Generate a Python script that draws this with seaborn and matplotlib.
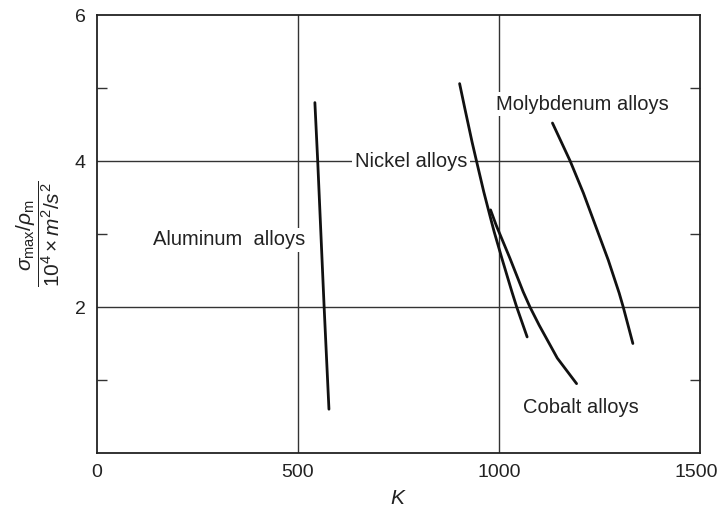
import matplotlib
matplotlib.use("Agg")
import matplotlib.pyplot as plt
import matplotlib.transforms as mtransforms
import pandas as pd
import seaborn as sns

# curves (K, sigma_max/rho_m in 10^4 m^2/s^2)
aluminum_k = [542, 549, 565, 577]
aluminum_s = [4.80, 4.00, 2.00, 0.60]

nickel_k = [902, 915, 933, 944, 962, 977, 988, 1007, 1032, 1044, 1070]
nickel_s = [5.06, 4.72, 4.26, 4.00, 3.58, 3.26, 3.03, 2.67, 2.21, 2.00, 1.59]

cobalt_k = [979, 993, 1027, 1060, 1077, 1100, 1145, 1193]
cobalt_s = [3.33, 3.12, 2.67, 2.21, 2.00, 1.75, 1.30, 0.95]

molybdenum_k = [1133, 1177, 1210, 1241, 1272, 1299, 1309, 1322, 1333]
molybdenum_s = [4.52, 4.00, 3.56, 3.10, 2.64, 2.19, 2.00, 1.73, 1.50]

label_names = ["Aluminum  alloys", "Nickel alloys", "Molybdenum alloys", "Cobalt alloys"]
label_k = [328, 781, 1208, 1204]
label_s = [2.92, 4.00, 4.78, 0.63]

x_ticks = [0, 500, 1000, 1500]
y_ticks = [2, 4, 6]
y_minor = [1, 3, 5]

frames = []
for name, k, s in [
    ("Aluminum", aluminum_k, aluminum_s),
    ("Nickel", nickel_k, nickel_s),
    ("Cobalt", cobalt_k, cobalt_s),
    ("Molybdenum", molybdenum_k, molybdenum_s),
]:
    frames.append(pd.DataFrame({"alloy": name, "K": k, "ratio": s}))
df = pd.concat(frames, ignore_index=True)

sns.set_theme(style="white")
plt.rcParams["font.family"] = ["Liberation Sans", "DejaVu Sans"]
plt.rcParams["mathtext.fontset"] = "custom"
plt.rcParams["mathtext.rm"] = "Liberation Sans"
plt.rcParams["mathtext.it"] = "Liberation Sans:italic"
plt.rcParams["lines.solid_joinstyle"] = "round"

fig = plt.figure(figsize=(7.2, 5.11), dpi=100)
ax = fig.add_axes([97 / 720, 1 - 453 / 511, 603 / 720, 438 / 511])

sns.lineplot(
    data=df, x="K", y="ratio", hue="alloy", units="alloy", estimator=None,
    sort=False, palette=["#111111"] * 4, linewidth=2.0, legend=False, ax=ax,
)

ax.set_xlim(0, 1500)
ax.set_ylim(0, 6)
ax.set_xticks(x_ticks)
ax.set_yticks(y_ticks)
ax.set_yticks(y_minor, minor=True)
ax.tick_params(axis="both", which="major", length=0, labelsize=14, colors="#222222", pad=8)
ax.tick_params(axis="y", which="minor", direction="in", length=7, width=1,
               left=True, right=True, color="#333333")

# last x label sits a bit left of its tick, as in the source figure
last = ax.get_xticklabels()[-1]
last.set_transform(last.get_transform() + mtransforms.ScaledTranslation(-3 / 72, 0, fig.dpi_scale_trans))

for v in [500, 1000]:
    ax.axvline(v, color="#333333", linewidth=1.0, zorder=0)
for v in [2, 4]:
    ax.axhline(v, color="#333333", linewidth=1.0, zorder=0)

for sp in ax.spines.values():
    sp.set_color("#222222")
    sp.set_linewidth(1.3)

for name, k, s in zip(label_names, label_k, label_s):
    ax.text(k, s, name, fontsize=14.5, color="#222222", ha="center", va="center",
            bbox=dict(facecolor="white", edgecolor="none", pad=2), zorder=3)

ax.set_xlabel("$K$", fontsize=15, color="#222222", labelpad=6)
ax.set_ylabel(r"$\dfrac{\sigma_{\rm max}/\rho_{\rm m}}{10^4 \times m^2/s^2}$",
              fontsize=15, color="#222222", labelpad=9)

fig.savefig("out.png", dpi=100)
